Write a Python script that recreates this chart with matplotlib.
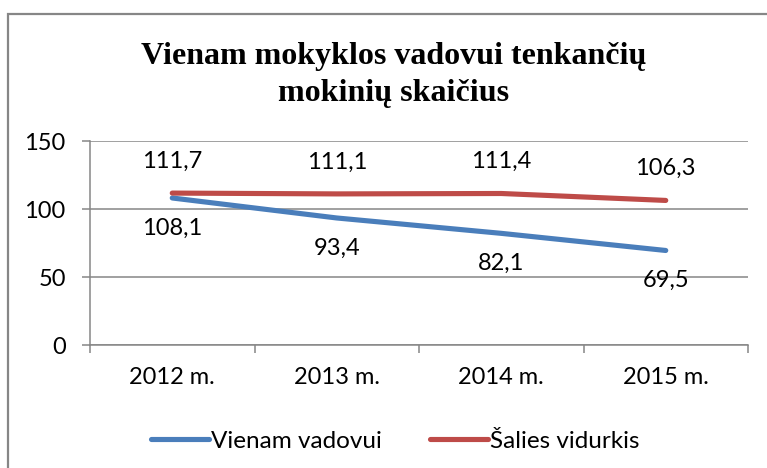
import matplotlib
matplotlib.use("Agg")
import matplotlib.pyplot as plt
from matplotlib.patches import Rectangle

categories = ["2012 m.", "2013 m.", "2014 m.", "2015 m."]
vienam_vadovui = [108.1, 93.4, 82.1, 69.5]
salies_vidurkis = [111.7, 111.1, 111.4, 106.3]
labels_vienam = ["108,1", "93,4", "82,1", "69,5"]
labels_salies = ["111,7", "111,1", "111,4", "106,3"]
yticks = [0, 50, 100, 150]

BLUE = "#4A7EBB"
RED = "#BE4B48"
GRID = "#868686"
FONT = "Lato"
FS = 17

fig = plt.figure(figsize=(7.67, 4.68), dpi=100)
W, H = 767, 468
ax = fig.add_axes([90 / W, (H - 345) / H, 658 / W, 204 / H])

x = list(range(len(categories)))
ax.plot(x, vienam_vadovui, color=BLUE, lw=3.7, solid_capstyle="round",
        solid_joinstyle="round", label="Vienam vadovui", zorder=3)
ax.plot(x, salies_vidurkis, color=RED, lw=3.7, solid_capstyle="round",
        solid_joinstyle="round", label="Šalies vidurkis", zorder=3)

for xi, v, t in zip(x, vienam_vadovui, labels_vienam):
    ax.annotate(t, (xi, v), xytext=(0, -30 / 1.389), textcoords="offset points",
                ha="center", va="center", fontsize=FS, family=FONT)
for xi, v, t in zip(x, salies_vidurkis, labels_salies):
    ax.annotate(t, (xi, v), xytext=(0, 32 / 1.389), textcoords="offset points",
                ha="center", va="center", fontsize=FS, family=FONT)

ax.set_xlim(-0.5, len(categories) - 0.5)
ax.set_ylim(0, 150)
ax.set_yticks(yticks)
ax.set_yticklabels([str(v) for v in yticks], fontsize=FS, family=FONT)
ax.set_xticks(x)
ax.set_xticklabels(categories, fontsize=FS, family=FONT)
ax.set_xticks([i - 0.5 for i in range(len(categories) + 1)], minor=True)
ax.tick_params(axis="x", which="major", length=0, pad=16)
ax.tick_params(axis="x", which="minor", length=5.5, width=1.1, color=GRID)
ax.tick_params(axis="y", length=5.5, width=1.1, color=GRID, pad=12)
ax.grid(axis="y", color=GRID, lw=1.1, zorder=1)
ax.set_axisbelow(True)
for s in ["top", "right"]:
    ax.spines[s].set_visible(False)
for s in ["left", "bottom"]:
    ax.spines[s].set_color(GRID)
    ax.spines[s].set_linewidth(1.1)

fig.text(394 / W, 1 - 64 / H, "Vienam mokyklos vadovui tenkančių",
         ha="center", va="baseline", fontsize=23, fontweight="bold",
         family="Liberation Serif")
fig.text(394 / W, 1 - 101 / H, "mokinių skaičius",
         ha="center", va="baseline", fontsize=23, fontweight="bold",
         family="Liberation Serif")

leg = fig.legend(loc="center", bbox_to_anchor=(395 / W, 1 - 441 / H), ncol=2,
                 frameon=False, prop={"family": FONT, "size": 17.5},
                 handlelength=2.4, handletextpad=0.05, columnspacing=2.0)
for line in leg.get_lines():
    line.set_solid_capstyle("round")

fig.patches.append(Rectangle((7.5 / W, -0.1), 1.2, 1 - 14 / H + 0.1,
                             transform=fig.transFigure, fill=False,
                             edgecolor="#868686", lw=1.6))

fig.savefig("out.png", dpi=100)
